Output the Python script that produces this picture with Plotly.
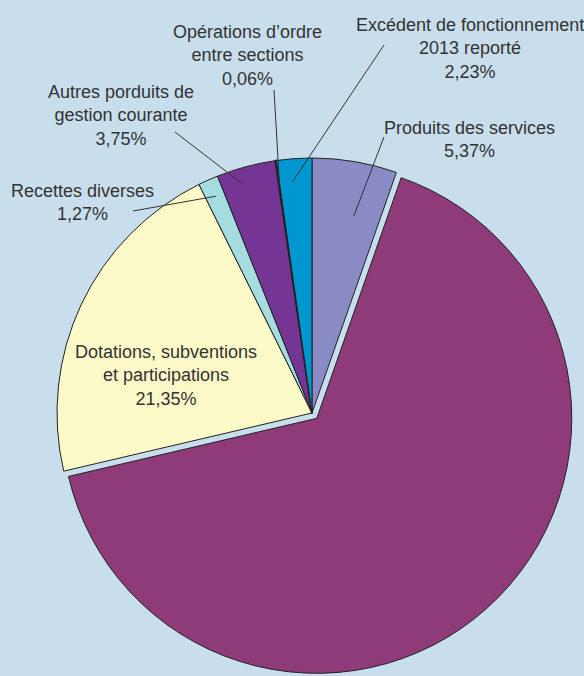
import math
import plotly.graph_objects as go

# ---- data ----
categories = [
    "Produits des services",
    "Impôts et taxes",
    "Dotations, subventions et participations",
    "Recettes diverses",
    "Autres porduits de gestion courante",
    "Opérations d’ordre entre sections",
    "Excédent de fonctionnement 2013 reporté",
]
values = [5.37, 65.97, 21.35, 1.27, 3.75, 0.06, 2.23]
label_texts = [
    "Produits des services<br>5,37%",
    None,
    "Dotations, subventions<br>et participations<br>21,35%",
    "Recettes diverses<br>1,27%",
    "Autres porduits de<br>gestion courante<br>3,75%",
    "Opérations d’ordre<br>entre sections<br>0,06%",
    "Excédent de fonctionnement<br>2013 reporté<br>2,23%",
]

# ---- style / layout ----
colors = ["#8a8ac4", "#8f3b7a", "#fbf9c8", "#a5dce0", "#753594", "#111111", "#0096d0"]
line_widths = [1, 1, 1, 1, 1, 2, 1]
pulls = [0, 0.028, 0, 0, 0, 0, 0]
W, H = 584, 676
CX, CY, R = 312, 413, 255          # pie centre & radius in pixels
bg = "#c8deec"
txt_col = "#333333"
FS = 18

half = R * (1 + max(pulls))
dom_x = [(CX - half) / W, (CX + half) / W]
dom_y = [(H - CY - half) / H, (H - CY + half) / H]

fig = go.Figure(go.Pie(
    labels=categories, values=values, sort=False, direction="clockwise",
    rotation=0, pull=pulls, textinfo="none", hoverinfo="label+percent",
    marker=dict(colors=colors, line=dict(color="#222222", width=line_widths)),
    domain=dict(x=dom_x, y=dom_y), showlegend=False,
))

# label placement: (text centre x, y), leader tail (x, y), tip (angular frac, radial frac)
placement = {
    0: dict(pos=(469.5, 139), tail=(384, 137), tip=(0.62, 0.79)),
    2: dict(pos=(166, 376), tail=None, tip=None),
    3: dict(pos=(82, 202.5), tail=(133, 211), tip=(0.52, 0.93)),
    4: dict(pos=(121, 116), tail=(175, 132), tip=(0.355, 0.94)),
    5: dict(pos=(247.5, 55), tail=(274, 90), tip=(0.5, 0.9)),
    6: dict(pos=(470, 48), tail=(384, 45), tip=(0.40, 0.91)),
}

total = sum(values)
cum = 0.0
starts, ends = [], []
for v in values:
    starts.append(cum / total * 360)
    cum += v
    ends.append(cum / total * 360)

def px(x):
    return x / W

def py(y):
    return 1 - y / H

annotations, shapes = [], []
for i, p in placement.items():
    x, y = p["pos"]
    annotations.append(dict(
        x=px(x), y=py(y), xref="paper", yref="paper", text=label_texts[i],
        showarrow=False, align="center", xanchor="center", yanchor="middle",
        font=dict(family="Liberation Sans, Arial, sans-serif", size=FS, color=txt_col),
    ))
    if p["tail"] is not None:
        af, rf = p["tip"]
        ang = math.radians(starts[i] + af * (ends[i] - starts[i]))
        tx = CX + R * rf * math.sin(ang)
        ty = CY - R * rf * math.cos(ang)
        shapes.append(dict(
            type="line", xref="paper", yref="paper",
            x0=px(p["tail"][0]), y0=py(p["tail"][1]), x1=px(tx), y1=py(ty),
            line=dict(color="#333333", width=1),
        ))

fig.update_layout(
    width=W, height=H, margin=dict(l=0, r=0, t=0, b=0),
    paper_bgcolor=bg, plot_bgcolor=bg,
    annotations=annotations, shapes=shapes,
)

fig.write_html(
    "out.html",
    config={"displayModeBar": False},
    post_script="document.body.style.margin='0';document.body.style.overflow='hidden';",
)
